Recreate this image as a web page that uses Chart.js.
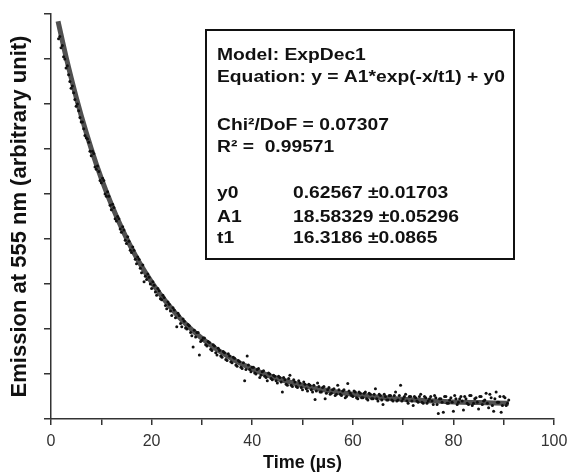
<!DOCTYPE html>
<html>
<head>
<meta charset="utf-8">
<script src="https://cdn.jsdelivr.net/npm/chart.js@4/dist/chart.umd.min.js"></script>
<style>
  html, body { margin: 0; padding: 0; background: #fff; }
</style>
</head>
<body>
<canvas id="g1" width="569" height="474"></canvas>
<script>
// measured points (time in us, emission in arbitrary units), first pass
var time = [
  1.5, 2.0, 2.5, 3.0, 3.5, 4.0, 4.5, 5.0, 5.5, 6.0, 6.5, 7.0, 7.5, 8.0, 8.5, 9.0, 9.5, 10.0,
  10.5, 11.0, 11.5, 12.0, 12.5, 13.0, 13.5, 14.0, 14.5, 15.0, 15.5, 16.0, 16.5, 17.0, 17.5, 18.0,
  18.5, 19.0, 19.5, 20.0, 20.5, 21.0, 21.5, 22.0, 22.5, 23.0, 23.5, 24.0, 24.5, 25.0, 25.5, 26.0,
  26.5, 27.0, 27.5, 28.0, 28.5, 29.0, 29.5, 30.0, 30.5, 31.0, 31.5, 32.0, 32.5, 33.0, 33.5, 34.0,
  34.5, 35.0, 35.5, 36.0, 36.5, 37.0, 37.5, 38.0, 38.5, 39.0, 39.5, 40.0, 40.5, 41.0, 41.5, 42.0,
  42.5, 43.0, 43.5, 44.0, 44.5, 45.0, 45.5, 46.0, 46.5, 47.0, 47.5, 48.0, 48.5, 49.0, 49.5, 50.0,
  50.5, 51.0, 51.5, 52.0, 52.5, 53.0, 53.5, 54.0, 54.5, 55.0, 55.5, 56.0, 56.5, 57.0, 57.5, 58.0,
  58.5, 59.0, 59.5, 60.0, 60.5, 61.0, 61.5, 62.0, 62.5, 63.0, 63.5, 64.0, 64.5, 65.0, 65.5, 66.0,
  66.5, 67.0, 67.5, 68.0, 68.5, 69.0, 69.5, 70.0, 70.5, 71.0, 71.5, 72.0, 72.5, 73.0, 73.5, 74.0,
  74.5, 75.0, 75.5, 76.0, 76.5, 77.0, 77.5, 78.0, 78.5, 79.0, 79.5, 80.0, 80.5, 81.0, 81.5, 82.0,
  82.5, 83.0, 83.5, 84.0, 84.5, 85.0, 85.5, 86.0, 86.5, 87.0, 87.5, 88.0, 88.5, 89.0, 89.5, 90.0,
  90.5, 91.0
];
var emission = [
  16.9, 16.5, 16.1, 15.6, 15.3, 14.7, 14.5, 13.9, 13.7, 13.2, 12.9, 12.5, 12.3, 11.7, 11.8, 11.1, 11.0, 10.5,
  10.6, 9.9, 9.9, 9.3, 9.4, 8.8, 8.9, 8.3, 8.4, 7.8, 7.9, 7.4, 7.5, 6.9, 7.1, 6.5,
  6.1, 6.2, 6.3, 5.8, 5.95, 5.5, 5.7, 5.3, 5.4, 4.9, 5.1, 4.6, 4.85, 4.1, 4.6, 4.1,
  4.35, 4.0, 4.15, 3.7, 3.95, 3.85, 2.85, 3.5, 3.6, 3.25, 3.4, 3.05, 3.25, 2.85, 3.05, 2.75,
  2.95, 2.6, 2.8, 2.5, 2.7, 2.35, 2.55, 2.25, 1.7, 2.8, 2.2, 2.3, 2.05, 2.2, 1.85, 2.1,
  1.9, 1.7, 2.0, 1.75, 1.9, 1.6, 1.85, 1.2, 1.75, 1.5, 1.95, 1.45, 1.65, 1.4, 1.6, 1.3,
  1.55, 1.25, 1.5, 1.2, 0.87, 1.6, 1.2, 1.4, 0.9, 1.3, 1.1, 1.3, 1.05, 1.5, 1.1, 1.25,
  0.95, 1.58, 1.15, 1.0, 1.2, 0.9, 1.15, 0.95, 1.2, 0.85, 1.1, 0.9, 1.35, 0.8, 1.05, 0.65,
  1.0, 0.85, 1.05, 0.8, 1.2, 0.85, 1.5, 0.9, 1.1, 0.7, 1.0, 0.6, 0.95, 0.75, 1.1, 0.7,
  0.95, 0.8, 1.0, 0.65, 0.95, 0.25, 0.9, 0.3, 1.0, 0.7, 0.95, 0.35, 0.9, 0.75, 1.0, 0.4,
  0.9, 0.65, 1.05, 0.7, 0.95, 0.45, 1.0, 0.8, 1.15, 0.5, 0.95, 0.35, 1.2, 0.75, 0.3, 1.0,
  0.6, 0.85
];

// second pass of the same trace, between the points above
var time2 = [
  1.75, 2.25, 2.75, 3.25, 3.75, 4.25, 4.75, 5.25, 5.75, 6.25, 6.75, 7.25, 7.75, 8.25, 8.75, 9.25, 9.75, 10.25,
  10.75, 11.25, 11.75, 12.25, 12.75, 13.25, 13.75, 14.25, 14.75, 15.25, 15.75, 16.25, 16.75, 17.25, 17.75, 18.25, 18.75, 19.25,
  19.75, 20.25, 20.75, 21.25, 21.75, 22.25, 22.75, 23.25, 23.75, 24.25, 24.75, 25.25, 25.75, 26.25, 26.75, 27.25, 27.75, 28.25,
  28.75, 29.25, 29.75, 30.25, 30.75, 31.25, 31.75, 32.25, 32.75, 33.25, 33.75, 34.25, 34.75, 35.25, 35.75, 36.25, 36.75, 37.25,
  37.75, 38.25, 38.75, 39.25, 39.75, 40.25, 40.75, 41.25, 41.75, 42.25, 42.75, 43.25, 43.75, 44.25, 44.75, 45.25, 45.75, 46.25,
  46.75, 47.25, 47.75, 48.25, 48.75, 49.25, 49.75, 50.25, 50.75, 51.25, 51.75, 52.25, 52.75, 53.25, 53.75, 54.25, 54.75, 55.25,
  55.75, 56.25, 56.75, 57.25, 57.75, 58.25, 58.75, 59.25, 59.75, 60.25, 60.75, 61.25, 61.75, 62.25, 62.75, 63.25, 63.75, 64.25,
  64.75, 65.25, 65.75, 66.25, 66.75, 67.25, 67.75, 68.25, 68.75, 69.25, 69.75, 70.25, 70.75, 71.25, 71.75, 72.25, 72.75, 73.25,
  73.75, 74.25, 74.75, 75.25, 75.75, 76.25, 76.75, 77.25, 77.75, 78.25, 78.75, 79.25, 79.75, 80.25, 80.75, 81.25, 81.75, 82.25,
  82.75, 83.25, 83.75, 84.25, 84.75, 85.25, 85.75, 86.25, 86.75, 87.25, 87.75, 88.25, 88.75, 89.25, 89.75, 90.25, 90.75
];
var emission2 = [
  17.0, 16.6, 16.0, 15.7, 15.0, 14.8, 14.2, 14.0, 13.4, 13.2, 12.6, 12.45, 11.9, 11.9, 11.2, 11.25, 10.6, 10.7,
  10.0, 10.1, 9.5, 9.55, 8.9, 9.0, 8.45, 8.55, 7.95, 8.1, 7.5, 7.65, 7.1, 7.2, 6.7, 6.85, 6.35, 6.45,
  6.0, 6.1, 5.65, 5.8, 5.35, 5.5, 5.05, 5.2, 4.8, 4.95, 4.5, 4.7, 4.25, 4.45, 4.05, 4.2, 3.85, 3.2,
  3.65, 3.85, 3.45, 3.6, 3.3, 3.45, 3.1, 3.3, 2.95, 3.15, 2.8, 3.0, 2.65, 2.9, 2.55, 2.75, 2.4, 2.6,
  2.3, 2.5, 2.2, 2.4, 2.1, 2.3, 2.0, 2.25, 1.95, 2.15, 1.85, 2.05, 1.8, 1.95, 1.7, 1.9, 1.65, 1.85,
  1.55, 1.8, 1.5, 1.75, 1.45, 1.7, 1.4, 1.65, 1.35, 1.55, 1.3, 1.5, 1.25, 1.45, 1.2, 1.45, 1.15, 1.4,
  1.15, 1.35, 1.1, 1.3, 1.05, 1.3, 1.0, 1.25, 1.05, 1.25, 0.95, 1.2, 0.95, 1.15, 0.9, 1.15, 0.9, 1.1,
  0.9, 1.1, 0.85, 1.1, 0.85, 1.05, 0.85, 1.05, 0.8, 1.05, 0.8, 1.0, 0.8, 1.0, 0.8, 1.0, 0.8, 1.0,
  0.75, 1.0, 0.7, 0.9, 0.8, 1.05, 0.65, 0.9, 0.75, 1.0, 0.7, 0.85, 0.75, 1.05, 0.65, 0.9, 0.8, 1.0,
  0.7, 1.05, 0.6, 0.9, 0.75, 1.0, 0.65, 0.85, 0.7, 1.1, 0.6, 0.9, 0.75, 1.0, 0.6, 0.95, 0.7
];

// fitted ExpDec1 curve
var fitTime = [1.4, 3, 5, 7, 9, 11, 13, 15, 17, 19, 21, 23, 25, 27, 29, 31, 33, 35, 37, 39,
  42, 45, 48, 51, 55, 60, 65, 70, 75, 80, 85, 91];
var fitEmission = [17.68, 16.09, 14.31, 12.73, 11.33, 10.10, 9.01, 8.04, 7.18, 6.43, 5.76, 5.17,
  4.64, 4.18, 3.77, 3.41, 3.09, 2.81, 2.55, 2.33, 2.04, 1.80, 1.61, 1.44, 1.27, 1.10, 0.97,
  0.88, 0.81, 0.76, 0.73, 0.70];

var xLabelValues = [0, 20, 40, 60, 80, 100];

var fitText = [
  ['Model: ExpDec1', ''],
  ['Equation: y = A1*exp(-x/t1) + y0', ''],
  ['Chi\u00B2/DoF = 0.07307', ''],
  ['R\u00B2 =  0.99571', ''],
  ['y0', '0.62567 \u00B10.01703'],
  ['A1', '18.58329 \u00B10.05296'],
  ['t1', '16.3186 \u00B10.0865']
];

var points = time.map(function(t, i) { return {x: t, y: emission[i]}; })
  .concat(time2.map(function(t, i) { return {x: t, y: emission2[i]}; }));
var fitPoints = fitTime.map(function(t, i) { return {x: t, y: fitEmission[i]}; });

// text box with fit results
var fitBox = {
  id: 'fitBox',
  afterDraw: function(chart) {
    var c = chart.ctx;
    c.save();
    c.strokeStyle = '#111';
    c.lineWidth = 2;
    c.strokeRect(206, 30, 308, 229);
    c.fillStyle = '#111';
    c.font = 'bold 16px "Liberation Sans", Arial, sans-serif';
    c.textBaseline = 'alphabetic';
    // stretch horizontally to match the reference
    var sx = 288 / c.measureText(fitText[1][0]).width;
    var baselines = [60, 82, 130, 152, 198, 222, 243];
    for (var i = 0; i < fitText.length; i++) {
      c.save();
      c.translate(217, baselines[i]);
      c.scale(sx, 1);
      c.fillText(fitText[i][0], 0, 0);
      c.restore();
      if (fitText[i][1]) {
        c.save();
        c.translate(293, baselines[i]);
        c.scale(sx, 1);
        c.fillText(fitText[i][1], 0, 0);
        c.restore();
      }
    }
    c.restore();
  }
};

var ctx = document.getElementById('g1');

var myChart = new Chart(ctx, {
  type: 'scatter',
  data: {
    datasets: [{
      type: 'line',
      label: 'ExpDec1 fit',
      data: fitPoints,
      borderColor: '#505050',
      borderWidth: 5,
      pointRadius: 0,
      tension: 0.4,
      fill: false,
      order: 1
    }, {
      label: 'Emission',
      data: points,
      backgroundColor: '#111',
      borderWidth: 0,
      pointRadius: 1.5,
      order: 0
    }]
  },
  options: {
    responsive: false,
    animation: false,
    layout: { padding: { top: 14, right: 15, left: 0, bottom: 0 } },
    plugins: {
      legend: { display: false },
      tooltip: { enabled: false }
    },
    scales: {
      x: {
        type: 'linear',
        min: 0,
        max: 100,
        afterFit: function(s) { s.height = 55; s.paddingRight = 0; s.paddingLeft = 0; },
        border: { display: true, color: '#333', width: 1.5 },
        grid: { drawOnChartArea: false, drawTicks: true, tickLength: 6, color: '#333', lineWidth: 1.5 },
        ticks: {
          stepSize: 10,
          autoSkip: false,
          maxRotation: 0,
          padding: 7,
          color: '#333',
          font: { family: '"Liberation Sans", Arial, sans-serif', size: 16 },
          callback: function(v) { return xLabelValues.indexOf(v) >= 0 ? v : ''; }
        },
        title: {
          display: true,
          text: 'Time (\u00B5s)',
          color: '#111',
          font: { family: '"Liberation Sans", Arial, sans-serif', size: 18, weight: 'bold' },
          padding: { top: 0, bottom: 0 }
        }
      },
      y: {
        min: 0,
        max: 18,
        afterFit: function(s) { s.width = 51; },
        border: { display: true, color: '#333', width: 1.5 },
        grid: { drawOnChartArea: false, drawTicks: true, tickLength: 7, color: '#333', lineWidth: 1.5 },
        ticks: { stepSize: 2, display: false },
        title: {
          display: true,
          text: 'Emission at 555 nm (arbitrary unit)',
          color: '#111',
          font: { family: '"Liberation Sans", Arial, sans-serif', size: 22, weight: 'bold' },
          padding: { top: 7, bottom: 0 }
        }
      }
    }
  },
  plugins: [fitBox]
});
</script>
</body>
</html>
